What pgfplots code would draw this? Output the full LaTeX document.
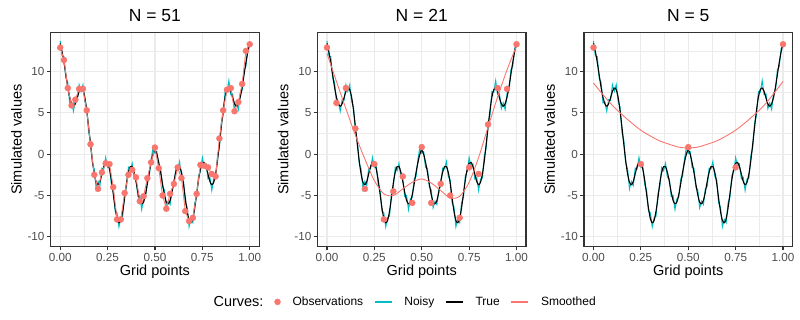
\documentclass[border=0pt]{standalone}
\usepackage{fontspec}
\setmainfont{Liberation Sans}
\usepackage{pgfplots}
\usepackage{pgfplotstable}
\pgfplotsset{compat=1.18}

\definecolor{obsred}{HTML}{F8766D}
\definecolor{noisycyan}{HTML}{00BFC4}
\definecolor{gridgrey}{HTML}{EBEBEB}
\definecolor{border}{HTML}{333333}
\definecolor{ticktext}{HTML}{4D4D4D}

% true curve
\pgfplotstableread{
x y
0.00 13.4
0.01 12.4
0.02 11.1
0.03 9.6
0.04 8.1
0.05 6.9
0.06 6.1
0.07 5.8
0.08 6.1
0.09 6.8
0.10 7.6
0.11 8.0
0.12 7.8
0.13 6.9
0.14 5.3
0.15 3.3
0.16 1.2
0.17 -0.8
0.18 -2.4
0.19 -3.4
0.20 -3.7
0.21 -3.3
0.22 -2.4
0.23 -1.5
0.24 -1.0
0.25 -1.1
0.26 -1.8
0.27 -3.1
0.28 -4.8
0.29 -6.5
0.30 -7.8
0.31 -8.3
0.32 -8.0
0.33 -6.9
0.34 -5.3
0.35 -3.5
0.36 -2.2
0.37 -1.5
0.38 -1.5
0.39 -2.2
0.40 -3.3
0.41 -4.6
0.42 -5.6
0.43 -6.0
0.44 -5.8
0.45 -4.9
0.46 -3.6
0.47 -2.2
0.48 -1.0
0.49 0.0
0.50 0.5
0.51 0.0
0.52 -1.0
0.53 -2.2
0.54 -3.6
0.55 -4.9
0.56 -5.8
0.57 -6.0
0.58 -5.6
0.59 -4.6
0.60 -3.3
0.61 -2.2
0.62 -1.5
0.63 -1.5
0.64 -2.2
0.65 -3.5
0.66 -5.3
0.67 -6.9
0.68 -8.0
0.69 -8.3
0.70 -7.8
0.71 -6.5
0.72 -4.8
0.73 -3.1
0.74 -1.8
0.75 -1.1
0.76 -1.0
0.77 -1.5
0.78 -2.4
0.79 -3.3
0.80 -3.7
0.81 -3.4
0.82 -2.4
0.83 -0.8
0.84 1.2
0.85 3.3
0.86 5.3
0.87 6.9
0.88 7.8
0.89 8.0
0.90 7.6
0.91 6.8
0.92 6.1
0.93 5.8
0.94 6.1
0.95 6.9
0.96 8.1
0.97 9.6
0.98 11.1
0.99 12.4
1.00 13.4
}\truecurve

% noisy curve
\pgfplotstableread{
x y
0.00 13.7
0.01 11.9
0.02 11.8
0.03 9.2
0.04 8.7
0.05 6.2
0.06 6.3
0.07 5.2
0.08 6.6
0.09 6.5
0.10 8.4
0.11 7.6
0.12 8.4
0.13 6.4
0.14 5.7
0.15 2.7
0.16 1.7
0.17 -1.1
0.18 -1.8
0.19 -4.2
0.20 -3.3
0.21 -3.8
0.22 -1.7
0.23 -1.8
0.24 -0.4
0.25 -1.6
0.26 -1.4
0.27 -3.7
0.28 -4.3
0.29 -6.9
0.30 -7.1
0.31 -8.8
0.32 -7.7
0.33 -7.5
0.34 -4.8
0.35 -3.9
0.36 -1.6
0.37 -2.0
0.38 -1.1
0.39 -2.8
0.40 -3.0
0.41 -5.1
0.42 -5.0
0.43 -6.7
0.44 -5.4
0.45 -5.2
0.46 -3.0
0.47 -2.7
0.48 -0.6
0.49 0.8
0.50 0.1
0.51 0.3
0.52 -1.6
0.53 -1.7
0.54 -4.0
0.55 -4.3
0.56 -6.5
0.57 -5.7
0.58 -6.1
0.59 -4.2
0.60 -3.9
0.61 -1.7
0.62 -1.8
0.63 -0.9
0.64 -2.7
0.65 -3.1
0.66 -5.9
0.67 -6.4
0.68 -8.8
0.69 -7.9
0.70 -8.3
0.71 -5.9
0.72 -5.2
0.73 -2.6
0.74 -2.1
0.75 -0.4
0.76 -1.5
0.77 -1.2
0.78 -3.0
0.79 -2.8
0.80 -4.4
0.81 -3.0
0.82 -2.9
0.83 -0.2
0.84 0.8
0.85 3.8
0.86 4.7
0.87 7.6
0.88 7.5
0.89 8.9
0.90 7.2
0.91 7.3
0.92 5.5
0.93 6.2
0.94 5.4
0.95 7.4
0.96 7.7
0.97 10.2
0.98 10.6
0.99 12.8
1.00 13.1
}\noisycurve

% observations, N = 51
\pgfplotstableread{
x y
0.00 12.9
0.02 11.4
0.04 8.0
0.06 5.9
0.08 6.6
0.10 7.9
0.12 7.9
0.14 5.3
0.16 1.2
0.18 -2.5
0.20 -4.2
0.22 -2.2
0.24 -1.1
0.26 -1.2
0.28 -4.0
0.30 -7.9
0.32 -7.9
0.34 -4.7
0.36 -2.5
0.38 -1.9
0.40 -2.8
0.42 -5.7
0.44 -5.1
0.46 -2.9
0.48 -1.0
0.50 0.8
0.52 -1.7
0.54 -5.0
0.56 -6.6
0.58 -4.8
0.60 -3.6
0.62 -1.6
0.64 -2.9
0.66 -6.9
0.68 -8.1
0.70 -7.7
0.72 -4.8
0.74 -1.3
0.76 -1.4
0.78 -1.6
0.80 -2.4
0.82 -2.7
0.84 1.9
0.86 5.3
0.88 7.8
0.90 8.0
0.92 5.2
0.94 6.3
0.96 8.5
0.98 12.5
1.00 13.3
}\obsA

% observations, N = 21
\pgfplotstableread{
x y
0.00 12.9
0.05 6.2
0.10 8.0
0.15 3.1
0.20 -4.2
0.25 -1.2
0.30 -7.9
0.35 -4.5
0.40 -2.7
0.45 -5.9
0.50 0.85
0.55 -5.9
0.60 -3.6
0.65 -5.0
0.70 -7.7
0.75 -1.6
0.80 -2.4
0.85 3.6
0.90 8.0
0.95 7.9
1.00 13.3
}\obsB

% smoothed, N = 21
\pgfplotstableread{
x y
0.00 12.2
0.05 8.8
0.10 5.5
0.15 2.3
0.20 -0.6
0.25 -3.2
0.30 -4.8
0.35 -5.0
0.40 -4.2
0.45 -3.4
0.50 -3.0
0.55 -3.5
0.60 -4.4
0.65 -5.3
0.70 -5.1
0.75 -3.4
0.80 -0.4
0.85 3.3
0.90 6.9
0.95 10.2
1.00 13.1
}\smoothB

% observations, N = 5
\pgfplotstableread{
x y
0.00 12.9
0.25 -1.2
0.50 0.85
0.75 -1.6
1.00 13.3
}\obsC

% smoothed, N = 5
\pgfplotstableread{
x y
0.00 8.6
0.05 7.2
0.10 5.9
0.15 4.8
0.20 3.8
0.25 2.9
0.30 2.2
0.35 1.6
0.40 1.2
0.45 0.85
0.50 0.75
0.55 0.85
0.60 1.2
0.65 1.6
0.70 2.2
0.75 2.9
0.80 3.8
0.85 4.8
0.90 5.9
0.95 7.3
1.00 8.8
}\smoothC

\pgfplotsset{
  panel/.style={
    scale only axis, width=208.5bp, height=214bp, anchor=south west,
    xmin=-0.05, xmax=1.05, ymin=-11.2, ymax=14.7,
    xtick={0,0.25,0.5,0.75,1}, xticklabels={0.00,0.25,0.50,0.75,1.00},
    ytick={-10,-5,0,5,10}, yticklabels={-10,-5,0,5,10},
    minor xtick={0.125,0.375,0.625,0.875},
    minor ytick={-7.5,-2.5,2.5,7.5,12.5},
    tick pos=left,
    grid=both,
    major grid style={gridgrey, line width=1.1bp},
    minor grid style={gridgrey, line width=0.55bp},
    axis line style={border, line width=1.1bp},
    tick align=outside, major tick length=3.7bp, minor tick length=0pt,
    every tick/.style={border, line width=1.1bp},
    tick label style={font=\fontsize{11.7bp}{12bp}\selectfont, text=ticktext},
    xticklabel style={yshift=1bp},
    yticklabel style={xshift=1bp},
    xlabel={Grid points}, ylabel={Simulated values},
    label style={font=\fontsize{14.5bp}{15bp}\selectfont},
    xlabel style={yshift=3bp},
    ylabel style={yshift=-1bp},
    title style={font=\fontsize{17.5bp}{18bp}\selectfont, yshift=2bp},
  },
  noisy/.style={noisycyan, line width=1bp, forget plot},
  truel/.style={black, line width=1.1bp, smooth, forget plot},
  smoothl/.style={obsred, line width=0.9bp, smooth, forget plot},
  obsm/.style={only marks, mark=*, mark size=3bp, obsred, forget plot},
}

\begin{document}
\begin{tikzpicture}
\path[use as bounding box] (0,0) rectangle (800bp,320bp);

\begin{axis}[panel, at={(50.7bp,73.3bp)}, title={N = 51}]
\addplot[noisy] table {\noisycurve};
\addplot[truel] table {\truecurve};
\addplot[obsred, line width=0.9bp, forget plot] table {\obsA};
\addplot[obsm] table {\obsA};
\end{axis}

\begin{axis}[panel, at={(317.5bp,73.3bp)}, title={N = 21},
  legend style={at={(0.394,-0.258)}, anchor=center, draw=none, fill=none,
    font=\fontsize{12bp}{13bp}\selectfont, legend columns=5,
    /tikz/every even column/.append style={column sep=9bp},
    /tikz/every odd column/.append style={column sep=10bp}},
  legend cell align=left]
\addlegendimage{empty legend}
\addlegendentry{\fontsize{14.5bp}{15bp}\selectfont Curves:}
\addlegendimage{only marks, mark=*, mark size=3bp, obsred}
\addlegendentry{Observations}
\addlegendimage{noisycyan, line width=1.2bp}
\addlegendentry{Noisy}
\addlegendimage{black, line width=1.2bp}
\addlegendentry{True}
\addlegendimage{obsred, line width=1.2bp}
\addlegendentry{Smoothed}
\addplot[noisy] table {\noisycurve};
\addplot[truel] table {\truecurve};
\addplot[smoothl] table {\smoothB};
\addplot[obsm] table {\obsB};
\end{axis}

\begin{axis}[panel, at={(584bp,73.3bp)}, title={N = 5}]
\addplot[noisy] table {\noisycurve};
\addplot[truel] table {\truecurve};
\addplot[smoothl] table {\smoothC};
\addplot[obsm] table {\obsC};
\end{axis}
\end{tikzpicture}
\end{document}
